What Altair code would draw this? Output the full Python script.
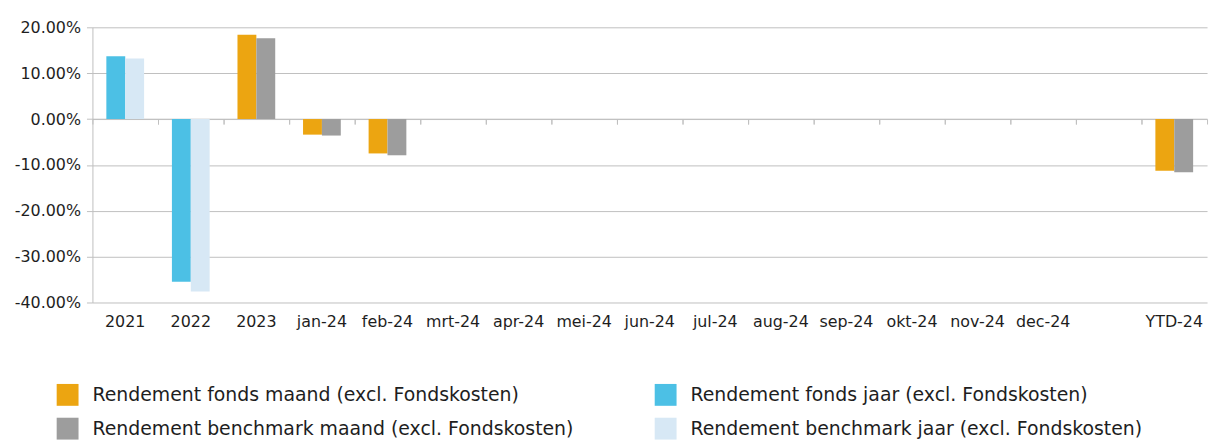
import altair as alt
import pandas as pd

categories = ["2021", "2022", "2023", "jan-24", "feb-24", "mrt-24", "apr-24",
              "mei-24", "jun-24", "jul-24", "aug-24", "sep-24", "okt-24",
              "nov-24", "dec-24", " ", "YTD-24"]

fonds_maand = [None, None, 18.4, -3.4, -7.5, None, None, None, None, None,
               None, None, None, None, None, None, -11.3]
bench_maand = [None, None, 17.6, -3.6, -7.9, None, None, None, None, None,
               None, None, None, None, None, None, -11.6]
fonds_jaar = [13.7, -35.5, None, None, None, None, None, None, None, None,
              None, None, None, None, None, None, None]
bench_jaar = [13.2, -37.6, None, None, None, None, None, None, None, None,
              None, None, None, None, None, None, None]

s_fm = "Rendement fonds maand (excl. Fondskosten)"
s_fj = "Rendement fonds jaar (excl. Fondskosten)"
s_bm = "Rendement benchmark maand (excl. Fondskosten)"
s_bj = "Rendement benchmark jaar (excl. Fondskosten)"
legend_order = [s_fm, s_bm, s_fj, s_bj]
colors = ["#ECA511", "#9D9D9D", "#4CC0E5", "#D7E8F5"]

rows = []
for name, vals, slot in [(s_fm, fonds_maand, "a"), (s_bm, bench_maand, "b"),
                         (s_fj, fonds_jaar, "a"), (s_bj, bench_jaar, "b")]:
    for c, v in zip(categories, vals):
        if v is not None:
            rows.append({"cat": c, "series": name, "value": v / 100.0, "slot": slot})
df = pd.DataFrame(rows)

W, H = 1122, 277
FONT = "DejaVu Sans"
TXT = "#1e1e1e"
GRID = "#BFBFBF"

ymin, ymax = -0.4, 0.2
yscale = alt.Scale(domain=[ymin, ymax], nice=False, zero=False)
xscale = alt.Scale(domain=categories, paddingInner=0, paddingOuter=0)
zero_offset = -H * (0 - ymin) / (ymax - ymin)

bars = alt.Chart(df).mark_bar().encode(
    x=alt.X("cat:N", scale=xscale, sort=categories, title=None,
            axis=alt.Axis(orient="bottom", domain=False, ticks=False, grid=False,
                          labelAngle=0, labelFont=FONT, labelFontSize=16,
                          labelColor=TXT, labelPadding=11, labelLimit=0)),
    xOffset=alt.XOffset("slot:N", scale=alt.Scale(domain=["a", "b"], paddingInner=0, paddingOuter=0.737)),
    y=alt.Y("value:Q", scale=yscale, title=None,
            axis=alt.Axis(values=[-0.4, -0.3, -0.2, -0.1, 0.0, 0.1, 0.2],
                          labelExpr="replace(format(datum.value, '.2%'), '\u2212', '-')",
                          labelFont=FONT, labelFontSize=16, labelColor=TXT,
                          tickSize=6, tickColor=GRID, domainColor=GRID,
                          gridColor=GRID, labelPadding=6)),
    color=alt.Color("series:N", scale=alt.Scale(domain=legend_order, range=colors),
                    legend=alt.Legend(orient="none", legendX=-36, legendY=359,
                                      columns=2, symbolType="square", symbolSize=484,
                                      symbolStrokeWidth=0, symbolOpacity=1,
                                      labelFont=FONT, labelFontSize=19, labelColor=TXT,
                                      columnPadding=81, rowPadding=12, labelOffset=14,
                                      labelLimit=0, title=None)),
)

zero_axis = alt.Chart(df).mark_point(opacity=0).encode(
    x=alt.X("cat:N", scale=xscale, sort=categories, title=None,
            axis=alt.Axis(orient="bottom", offset=zero_offset,
                          labels=False, ticks=True, bandPosition=0, tickSize=5,
                          tickColor=GRID, domainColor=GRID, grid=False, zindex=0)),
)

zero_axis_end = alt.Chart(df).mark_point(opacity=0).encode(
    x=alt.X("cat:N", scale=xscale, sort=categories, title=None,
            axis=alt.Axis(orient="bottom", offset=zero_offset, domain=False,
                          labels=False, ticks=True, bandPosition=1, tickSize=5,
                          tickColor=GRID, grid=False, zindex=0)),
)

chart = alt.layer(bars, zero_axis, zero_axis_end).resolve_axis(x="independent").properties(
    width=W, height=H,
    padding={"left": 85, "top": 18, "right": 6, "bottom": 140},
    autosize=alt.AutoSizeParams(type="none"),
).configure_view(stroke=None)

chart.save("out.html", embed_options={"renderer": "svg", "actions": False})
